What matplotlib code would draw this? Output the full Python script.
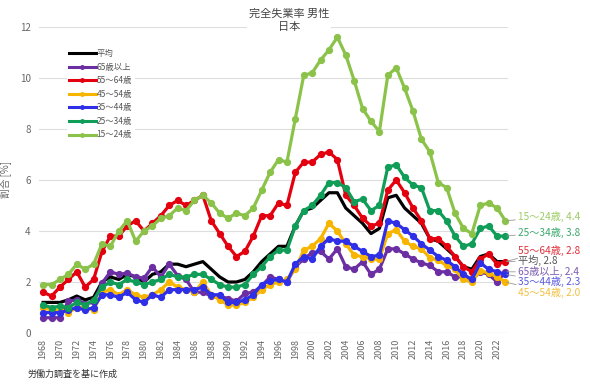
import numpy as np
import matplotlib
matplotlib.use('Agg')
from matplotlib import pyplot as plt

plt.rcParams['font.family'] = ['Noto Sans CJK JP', 'DejaVu Sans']

# 年
years = list(range(1968, 2024))

# 完全失業率 男性 (%)
avg = [1.2, 1.2, 1.2, 1.3, 1.45, 1.3, 1.4, 2.0, 2.2, 2.1, 2.3, 2.2, 2.0, 2.3, 2.4, 2.7, 2.7, 2.6, 2.7, 2.8,
       2.5, 2.2, 2.0, 2.0, 2.1, 2.4, 2.8, 3.1, 3.4, 3.4, 4.2, 4.8, 4.9, 5.2, 5.5, 5.5, 4.9, 4.6, 4.3, 3.9,
       4.1, 5.3, 5.4, 4.9, 4.6, 4.3, 3.7, 3.6, 3.3, 3.0, 2.6, 2.5, 3.0, 3.1, 2.8, 2.8]
age65 = [0.6, 0.6, 0.6, 1.25, 1.3, 1.15, 1.2, 1.95, 2.4, 2.3, 2.35, 2.2, 2.15, 2.6, 2.2, 2.7, 2.25, 2.1, 1.6, 1.6,
         1.45, 1.45, 1.35, 1.25, 1.55, 1.6, 1.85, 2.2, 2.1, 2.0, 2.6, 2.9, 3.15, 3.2, 2.9, 3.3, 2.6, 2.5, 2.8, 2.3,
         2.5, 3.3, 3.3, 3.1, 2.9, 2.75, 2.65, 2.4, 2.4, 2.2, 2.2, 2.1, 2.4, 2.3, 2.0, 2.4]
age55 = [1.6, 1.45, 1.8, 2.1, 2.4, 1.8, 2.1, 3.2, 3.8, 3.8, 4.2, 4.4, 4.0, 4.3, 4.6, 5.0, 5.2, 5.0, 5.2, 5.4,
         4.4, 3.9, 3.4, 3.0, 3.2, 3.8, 4.6, 4.6, 5.1, 5.0, 6.3, 6.7, 6.7, 7.0, 7.1, 6.8, 5.4, 5.0, 4.5, 4.2,
         4.3, 5.6, 6.0, 5.5, 4.9, 4.4, 3.7, 3.7, 3.4, 3.0, 2.6, 2.4, 2.9, 3.1, 2.7, 2.8]
age45 = [1.0, 0.9, 0.9, 0.8, 1.0, 1.0, 0.9, 1.6, 1.7, 1.5, 1.7, 1.5, 1.4, 1.5, 1.7, 2.0, 1.8, 1.7, 1.6, 2.0,
         1.5, 1.3, 1.1, 1.1, 1.2, 1.4, 1.7, 1.9, 2.0, 2.1, 2.5, 3.25, 3.4, 3.7, 4.3, 4.0, 3.5, 3.05, 3.0, 2.9,
         2.9, 3.9, 4.05, 3.6, 3.4, 3.3, 2.95, 2.85, 2.65, 2.5, 2.1, 2.0, 2.45, 2.35, 2.2, 2.0]
age35 = [0.8, 0.8, 0.8, 0.9, 1.0, 0.9, 1.0, 1.5, 1.5, 1.4, 1.6, 1.3, 1.2, 1.5, 1.4, 1.7, 1.7, 1.7, 1.7, 1.8,
         1.5, 1.5, 1.2, 1.2, 1.3, 1.5, 1.9, 2.05, 2.1, 2.0, 2.7, 3.0, 2.9, 3.4, 3.7, 3.6, 3.6, 3.4, 3.2, 3.0,
         3.05, 4.4, 4.3, 4.05, 3.8, 3.5, 3.25, 3.0, 2.85, 2.6, 2.3, 2.1, 2.75, 2.5, 2.4, 2.3]
age25 = [1.1, 1.0, 1.05, 1.0, 1.2, 1.1, 1.3, 1.8, 2.0, 1.9, 2.1, 2.0, 1.9, 2.0, 2.1, 2.3, 2.2, 2.2, 2.3, 2.3,
         2.1, 1.9, 1.8, 1.8, 1.9, 2.3, 2.6, 3.0, 3.25, 3.25, 4.2, 4.8, 5.0, 5.4, 5.9, 5.9, 5.7, 5.15, 5.25, 4.8,
         5.0, 6.5, 6.6, 6.1, 5.8, 5.7, 4.8, 4.8, 4.4, 3.8, 3.4, 3.5, 4.1, 4.2, 3.8, 3.8]
age15 = [1.9, 1.9, 2.1, 2.3, 2.7, 2.5, 2.7, 3.5, 3.4, 4.0, 4.4, 3.6, 4.0, 4.2, 4.5, 4.6, 4.9, 4.8, 5.2, 5.4,
         5.1, 4.7, 4.5, 4.7, 4.6, 4.9, 5.6, 6.3, 6.8, 6.7, 8.4, 10.1, 10.2, 10.7, 11.1, 11.6, 10.9, 9.9, 8.8, 8.3,
         7.9, 10.1, 10.4, 9.6, 8.7, 7.6, 7.1, 5.9, 5.7, 4.7, 4.1, 3.9, 5.0, 5.1, 4.9, 4.4]

names = ['平均', '65歳以上', '55〜64歳', '45〜54歳', '35〜44歳', '25〜34歳', '15〜24歳']
series = [avg, age65, age55, age45, age35, age25, age15]
colors = ['#000000', '#6b2fa3', '#e3000f', '#f7b500', '#2f2fe8', '#0f9d58', '#8bc34a']
label_colors = ['#555555', '#7d5cb0', '#e0303a', '#f0c040', '#5a5ae0', '#3aa86b', '#9ccc65']
# 右端ラベルの縦位置
label_y = [2.84, 2.40, 3.25, 1.57, 2.01, 3.96, 4.56]

fig = plt.figure(figsize=(5.9, 3.85), dpi=100)
ax = fig.add_axes([0.066, 0.135, 0.795, 0.795])

for name, vals, c in zip(names, series, colors):
    if name == '平均':
        ax.plot(years, vals, color=c, lw=2.3, label=name, zorder=3)
    else:
        ax.plot(years, vals, color=c, lw=2.3, marker='o', ms=4.2, label=name, zorder=3)

# 右端ラベル
for name, vals, c, ly in zip(names, series, label_colors, label_y):
    ax.annotate(f'{name}, {vals[-1]:.1f}', xy=(years[-1], vals[-1]), xytext=(2024.5, ly),
                textcoords='data', fontsize=7.3, color=c, va='center', ha='left',
                annotation_clip=False,
                arrowprops=dict(arrowstyle='-', color='#999999', lw=0.6, shrinkA=0, shrinkB=1))

ax.set_xlim(1967.5, 2023.3)
ax.set_ylim(0, 12)
ax.set_yticks(range(0, 13, 2))
ax.set_xticks(range(1968, 2023, 2))
ax.tick_params(axis='x', labelrotation=90, labelsize=6.5, colors='#666666', length=0, pad=4)
ax.tick_params(axis='y', labelsize=7, colors='#666666', length=0, pad=6)
ax.grid(axis='y', color='#dddddd', lw=0.8, zorder=0)
ax.set_axisbelow(True)
for s in ax.spines.values():
    s.set_visible(False)
ax.axhline(0, color='#cccccc', lw=0.8, zorder=1)

ax.set_ylabel('割合 [%]', fontsize=7, color='#666666', labelpad=6)

leg = ax.legend(loc='upper left', bbox_to_anchor=(0.05, 0.95), fontsize=6, frameon=True,
                edgecolor='none', facecolor='white', framealpha=1, handlelength=3.2,
                handletextpad=0.1, labelspacing=0.55, borderpad=0.3)
for t in leg.get_texts():
    t.set_color('#555555')
for h in leg.get_lines():
    h.set_linewidth(2.2)
    h.set_markersize(2.5)

fig.text(0.49, 0.948, '完全失業率 男性\n日本', ha='center', va='center', fontsize=8, color='#444444',
         linespacing=1.45, zorder=5,
         bbox=dict(facecolor='white', edgecolor='none', pad=1.5))
fig.text(0.046, 0.028, '労働力調査を基に作成', ha='left', va='center', fontsize=6.5, color='#333333')

fig.savefig('out.png', dpi=100)
